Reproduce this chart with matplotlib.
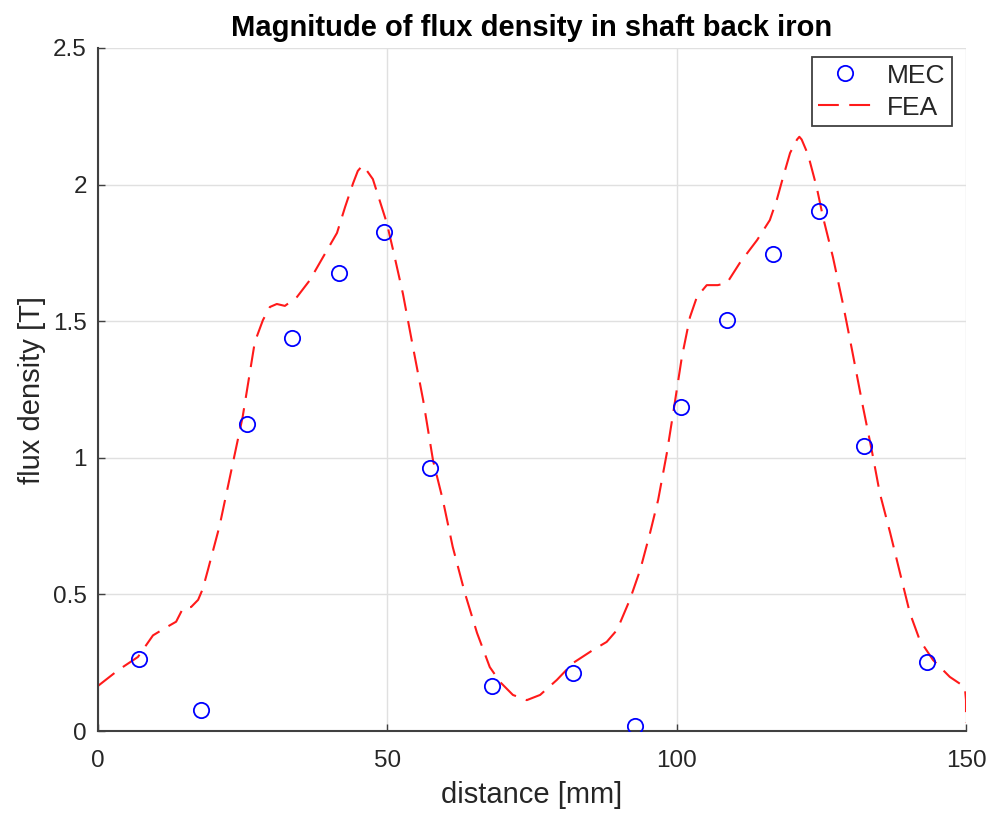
import matplotlib
matplotlib.use("Agg")
import matplotlib.pyplot as plt

mec_x = [7.1, 17.8, 25.75, 33.5, 41.6, 49.4, 57.4, 68.1, 82.1, 92.8, 100.7, 108.7, 116.6, 124.6, 132.4, 143.3]
mec_y = [0.264, 0.077, 1.124, 1.438, 1.676, 1.826, 0.963, 0.165, 0.212, 0.018, 1.186, 1.504, 1.746, 1.903, 1.043, 0.253]

fea_x = [0.0, 3.5, 6.9, 9.5, 11.6, 13.5, 14.7, 16.1, 17.3, 18.1, 19.0, 21.0, 23.0, 25.0, 27.1, 28.5,
         29.7, 30.9, 32.3, 34.4, 36.6, 38.9, 41.3, 42.7, 44.1, 44.9, 45.7, 46.5, 47.5, 48.7, 49.9, 51.0,
         52.7, 54.3, 56.2, 57.9, 59.6, 61.3, 63.4, 65.5, 67.7, 69.5, 71.7, 74.1, 76.4, 79.3, 82.1,
         85.5, 87.9, 89.7, 91.9, 93.7, 95.4, 96.8, 98.3, 99.4, 100.9, 102.3, 103.5, 105.2, 107.1,
         108.7, 110.9, 113.9, 116.1, 117.3, 118.4, 119.6, 120.8, 121.2, 121.6, 122.7, 124.2, 125.3, 127.0,
         128.7, 130.3, 132.2, 133.7, 135.1, 136.9, 138.6, 140.3, 142.0, 144.3, 147.2, 149.8, 150.0, 150.0]
fea_y = [0.165, 0.223, 0.271, 0.35, 0.377, 0.40, 0.45, 0.454, 0.48, 0.52, 0.59, 0.75, 0.95, 1.15, 1.424, 1.504,
         1.552, 1.563, 1.556, 1.589, 1.65, 1.735, 1.823, 1.918, 2.006, 2.05, 2.07, 2.05, 2.02, 1.94, 1.86, 1.76,
         1.60, 1.42, 1.21, 0.99, 0.845, 0.674, 0.505, 0.359, 0.234, 0.179, 0.132, 0.113, 0.132, 0.187, 0.249,
         0.296, 0.326, 0.37, 0.48, 0.59, 0.725, 0.846, 1.017, 1.164, 1.369, 1.515, 1.589, 1.632, 1.632,
         1.64, 1.713, 1.797, 1.87, 1.944, 2.028, 2.116, 2.165, 2.175, 2.165, 2.11, 1.99, 1.88, 1.735,
         1.567, 1.395, 1.186, 1.029, 0.871, 0.725, 0.578, 0.432, 0.333, 0.26, 0.198, 0.161, 0.113, 0.03]

x_ticks = [0, 50, 100, 150]
y_ticks = [0, 0.5, 1, 1.5, 2, 2.5]
y_tick_labels = ["0", "0.5", "1", "1.5", "2", "2.5"]

plt.rcParams['font.family'] = ['Liberation Sans', 'DejaVu Sans']

TXT = '#262626'
fig = plt.figure(figsize=(9.9, 8.19), dpi=100)
ax = fig.add_axes([98/990, 1-731/819, (966-98)/990, (731-48)/819])

ax.plot(mec_x, mec_y, linestyle='none', marker='o', markersize=11, markerfacecolor='none',
        markeredgecolor=(0, 0, 1), markeredgewidth=1.3, label='MEC', zorder=3)
ax.plot(fea_x, fea_y, linestyle=(0, (10, 5)), color=(1, 0.1, 0.1), linewidth=1.5, label='FEA', zorder=2)

ax.set_xlim(0, 150)
ax.set_ylim(0, 2.5)
ax.set_xticks(x_ticks)
ax.set_yticks(y_ticks)
ax.set_yticklabels(y_tick_labels)
ax.grid(True, color='#e0e0e0', linewidth=1)
ax.set_axisbelow(True)
for s in ['top', 'right']:
    ax.spines[s].set_visible(False)
for s in ['left', 'bottom']:
    ax.spines[s].set_color('#404040')
    ax.spines[s].set_linewidth(1.5)
ax.tick_params(direction='in', length=5, width=1, colors='#404040', labelcolor=TXT, labelsize=17.5)
ax.tick_params(axis='y', pad=8)
ax.tick_params(axis='x', pad=14)

ax.set_xlabel('distance [mm]', fontsize=21, color=TXT, labelpad=6)
ax.set_ylabel('flux density [T]', fontsize=21, color=TXT, labelpad=5)
ax.set_title('Magnitude of flux density in shaft back iron', fontsize=21, fontweight='bold', pad=9)

leg = ax.legend(loc='upper right', bbox_to_anchor=((952-98)/868, (731-57)/683), borderaxespad=0,
                fontsize=19, frameon=True, fancybox=False, framealpha=1, edgecolor='#404040',
                handlelength=2.0, handletextpad=0.6, borderpad=0.25, labelspacing=0.3)
leg.get_frame().set_linewidth(1.3)
for t in leg.get_texts():
    t.set_color(TXT)

fig.savefig('out.png', dpi=100)
